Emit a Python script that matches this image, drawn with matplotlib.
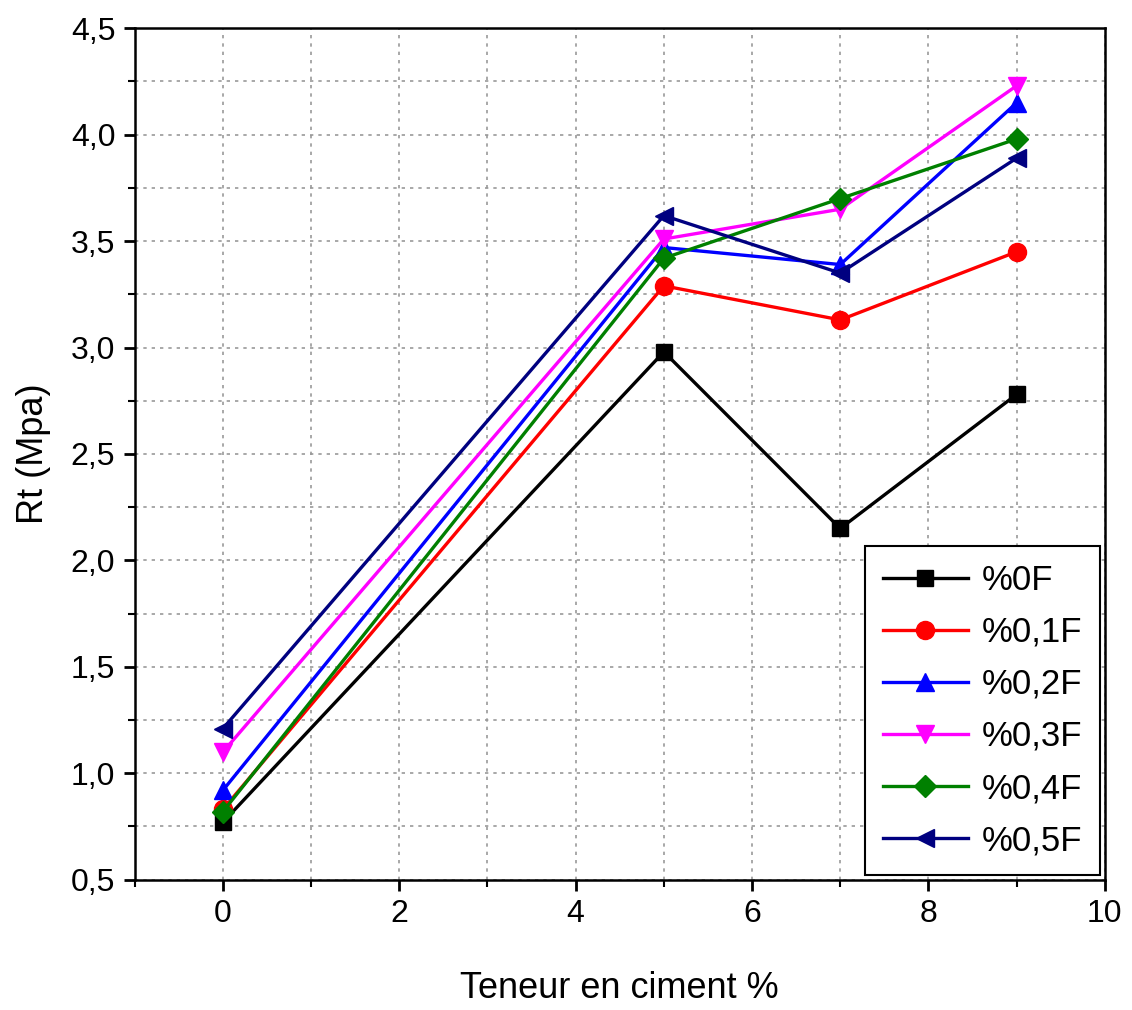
"""
Tensile strength vs cement content, one line per fibre ratio
"""

import matplotlib
matplotlib.use('Agg')
import matplotlib.pyplot as plt
from matplotlib.ticker import MultipleLocator, FuncFormatter

plt.rcParams['font.family'] = ['Liberation Sans', 'DejaVu Sans']

# Data
ciment = [0, 5, 7, 9]
rt_0F = [0.77, 2.98, 2.15, 2.78]
rt_01F = [0.83, 3.29, 3.13, 3.45]
rt_02F = [0.92, 3.47, 3.39, 4.15]
rt_03F = [1.10, 3.51, 3.65, 4.23]
rt_04F = [0.82, 3.42, 3.70, 3.98]
rt_05F = [1.21, 3.62, 3.35, 3.89]
labels = ['%0F', '%0,1F', '%0,2F', '%0,3F', '%0,4F', '%0,5F']

series = [rt_0F, rt_01F, rt_02F, rt_03F, rt_04F, rt_05F]
colors = ['black', 'red', 'blue', 'magenta', 'green', 'navy']
markers = ['s', 'o', '^', 'v', 'D', '<']
sizes = [11, 13, 13, 13, 11, 13]

fig = plt.figure(figsize=(11.32, 10.10), dpi=100)
ax = fig.add_axes([0.119, 0.129, 0.857, 0.843])

for vals, lab, col, mk, ms in zip(series, labels, colors, markers, sizes):
    ax.plot(ciment, vals, color=col, marker=mk, markersize=ms, linewidth=2.4,
            label=lab)

ax.set_xlim(-1, 10)
ax.set_ylim(0.5, 4.5)
ax.xaxis.set_major_locator(MultipleLocator(2))
ax.xaxis.set_minor_locator(MultipleLocator(1))
ax.yaxis.set_major_locator(MultipleLocator(0.5))
ax.yaxis.set_minor_locator(MultipleLocator(0.25))
ax.yaxis.set_major_formatter(FuncFormatter(lambda v, p: f'{v:.1f}'.replace('.', ',')))

ax.grid(which='both', linestyle=(0, (2, 3)), color='#999999', linewidth=1.2)
ax.set_axisbelow(True)

ax.tick_params(which='major', direction='out', length=8, width=2, labelsize=23, pad=6)
ax.tick_params(which='minor', direction='out', length=5, width=1.5)
for sp in ax.spines.values():
    sp.set_linewidth(1.8)

ax.set_xlabel('Teneur en ciment %', fontsize=26, labelpad=30)
ax.set_ylabel('Rt (Mpa)', fontsize=26, labelpad=14)

leg = ax.legend(loc='lower right', fontsize=25, frameon=True, fancybox=False,
                edgecolor='black', framealpha=1, handlelength=2.45,
                borderaxespad=0.15, labelspacing=0.55, handletextpad=0.4,
                borderpad=0.5)
leg.get_frame().set_linewidth(1.5)

fig.savefig('out.png', dpi=100)
